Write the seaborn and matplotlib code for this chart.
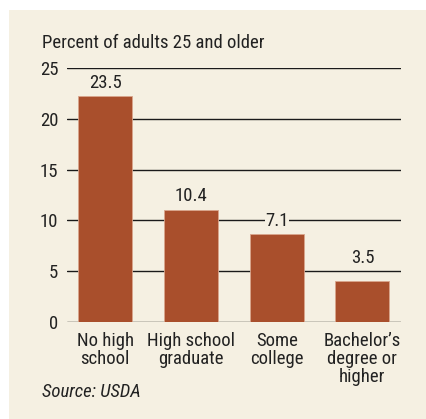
import matplotlib
matplotlib.use("Agg")
import matplotlib.pyplot as plt
import seaborn as sns
import pandas as pd
from matplotlib.patches import Rectangle
from matplotlib import font_manager as fm

# ---- data ----
categories = ["No high\nschool", "High school\ngraduate", "Some\ncollege", "Bachelor’s\ndegree or\nhigher"]
bar_heights = [22.2, 11.0, 8.7, 4.0]          # heights as drawn in the picture
value_labels = ["23.5", "10.4", "7.1", "3.5"]  # printed labels
y_ticks = [0, 5, 10, 15, 20, 25]

title_text = "Percent of adults 25 and older"
source_text = "Source: USDA"

BG = "#f5f0e2"
BAR = "#a94f2c"
TXT = "#222222"

sns.set_theme(style="white")
names = {f.name for f in fm.fontManager.ttflist}
family = "DejaVu Sans"
for cand in ["Roboto Condensed", "Liberation Sans Narrow", "Arial Narrow", "Open Sans Condensed"]:
    if cand in names:
        family = cand
        break
plt.rcParams["font.family"] = [family, "DejaVu Sans"]
if family == "DejaVu Sans":
    plt.rcParams["font.stretch"] = "condensed"

FS = 13.5

fig = plt.figure(figsize=(4.27, 4.19), dpi=100)
fig.patch.set_facecolor("white")
fig.patches.append(Rectangle((9 / 427, 0), 1, 1 - 10 / 419, transform=fig.transFigure,
                             facecolor=BG, edgecolor="none", zorder=-10))

ax = fig.add_axes([66.7 / 427, 97 / 419, (401 - 66.7) / 427, (322 - 68) / 419])
ax.set_facecolor("none")

df = pd.DataFrame({"cat": categories, "val": bar_heights})
sns.barplot(data=df, x="cat", y="val", color=BAR, saturation=1, width=0.63, ax=ax, zorder=2,
            linewidth=0.6, edgecolor="#d9a58c")

ax.set_xlim(-0.45, 3.45)
ax.set_ylim(0, 25)
ax.set_yticks(y_ticks)
ax.set_xlabel("")
ax.set_ylabel("")
for s in ax.spines.values():
    s.set_visible(False)
ax.set_axisbelow(True)
ax.yaxis.grid(True, color="#1a1a1a", linewidth=1.0)
ax.xaxis.grid(False)
ax.tick_params(axis="y", length=0, pad=6, labelsize=FS, labelcolor=TXT)
ax.tick_params(axis="x", length=0, pad=7, labelsize=FS, labelcolor=TXT)
for lbl in ax.get_xticklabels():
    lbl.set_linespacing(1.0)

label_pads = [3.5, 3.5, 2.5, 10.0]  # points above each bar (last one lifted clear of the gridline)
for patch, txt, pad in zip(ax.patches, value_labels, label_pads):
    ax.annotate(txt, (patch.get_x() + patch.get_width() / 2, patch.get_height()),
                xytext=(0, pad), textcoords="offset points", ha="center", va="bottom",
                fontsize=FS, color=TXT, zorder=5,
                bbox=dict(facecolor=BG, edgecolor="none", pad=0.3))

fig.text(41.7 / 427, 1 - 48 / 419, title_text, fontsize=FS, color=TXT, ha="left", va="baseline")
fig.text(41.7 / 427, 1 - 397 / 419, source_text, fontsize=FS, color=TXT, style="italic",
         ha="left", va="baseline")

fig.savefig("out.png", dpi=100, facecolor=fig.get_facecolor())
